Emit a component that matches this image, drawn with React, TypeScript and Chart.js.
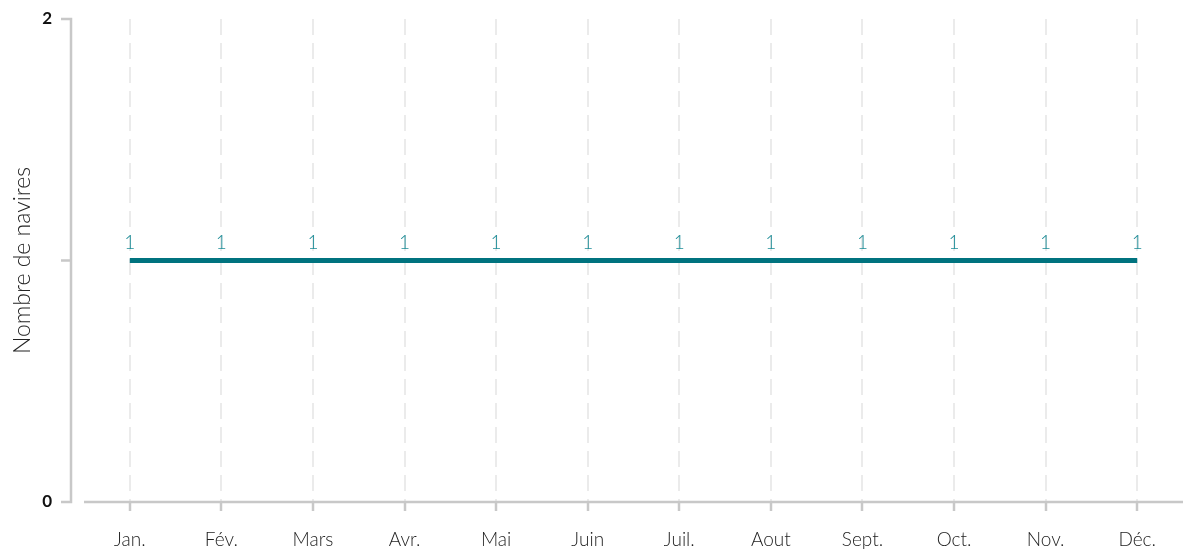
import React, { useEffect, useRef } from "react";
import { Chart, registerables } from "chart.js";

Chart.register(...registerables);

const months = ["Jan.", "Fév.", "Mars", "Avr.", "Mai", "Juin", "Juil.", "Aout", "Sept.", "Oct.", "Nov.", "Déc."];
const navires = [1, 1, 1, 1, 1, 1, 1, 1, 1, 1, 1, 1];
const yTicks = [0, 1, 2];
const yTitle = "Nombre de navires";

const FONT = "'Source Sans Pro', Lato, 'Open Sans', sans-serif";
const AXIS = "#c8c8c8";
const TEAL = "#00737f";

const axesPlugin = {
  id: "axesLines",
  afterDraw(chart: any) {
    const { ctx, chartArea } = chart;
    const y = chart.scales.y;
    const x0 = chartArea.left - 13;
    ctx.save();
    ctx.setLineDash([]);
    ctx.strokeStyle = AXIS;
    ctx.lineWidth = 2.5;
    ctx.beginPath();
    ctx.moveTo(x0, y.getPixelForValue(2));
    ctx.lineTo(x0, y.getPixelForValue(0));
    for (const v of yTicks) {
      const py = y.getPixelForValue(v);
      ctx.moveTo(x0 - 10, py);
      ctx.lineTo(x0 + 1.25, py);
    }
    ctx.moveTo(chartArea.left, chartArea.bottom);
    ctx.lineTo(ctx.canvas.width + 10, chartArea.bottom);
    ctx.stroke();
    ctx.restore();
  },
};

const labelPlugin = {
  id: "pointLabels",
  afterDatasetsDraw(chart: any) {
    const { ctx } = chart;
    const meta = chart.getDatasetMeta(0);
    ctx.save();
    ctx.fillStyle = "#1f8e99";
    ctx.font = `300 19px ${FONT}`;
    ctx.textAlign = "center";
    ctx.textBaseline = "bottom";
    meta.data.forEach((pt: any, i: number) => {
      ctx.fillText(String(navires[i]), pt.x, pt.y - 8);
    });
    ctx.restore();
  },
};

export default function App() {
  const ref = useRef<HTMLCanvasElement | null>(null);
  useEffect(() => {
    document.body.style.margin = "0";
    document.body.style.overflow = "hidden";
    document.documentElement.style.overflow = "hidden";
    (document.documentElement.style as any).scrollbarWidth = "none";
    const chart = new Chart(ref.current!, {
      type: "line",
      data: {
        labels: months,
        datasets: [
          {
            data: navires,
            borderColor: TEAL,
            backgroundColor: TEAL,
            borderWidth: 5,
            pointRadius: 0,
            tension: 0,
          },
        ],
      },
      options: {
        animation: false,
        responsive: false,
        layout: { padding: { top: 19, right: 0, left: 0, bottom: 0 } },
        plugins: { legend: { display: false }, tooltip: { enabled: false } },
        scales: {
          x: {
            type: "category",
            offset: true,
            afterFit(scale: any) {
              scale.height = 49;
              scale.paddingLeft = 0;
              scale.paddingRight = 0;
            },
            grid: {
              display: true,
              color: "#ebebeb",
              lineWidth: 2,
              drawTicks: true,
              tickLength: 9,
              tickColor: AXIS,
              tickWidth: 2.5,
              tickBorderDash: [],
              offset: false,
            },
            border: { display: false, dash: [16, 8] },
            ticks: {
              color: "#222",
              padding: 17,
              font: { family: FONT, size: 19, weight: "300" },
              maxRotation: 0,
              autoSkip: false,
            },
          },
          y: {
            min: 0,
            max: 2,
            afterFit(scale: any) {
              scale.width = 84;
              scale.paddingTop = 0;
              scale.paddingBottom = 0;
            },
            afterBuildTicks(scale: any) {
              scale.ticks = yTicks.map((v) => ({ value: v }));
            },
            grid: { display: false, drawTicks: false },
            border: { display: false },
            ticks: {
              color: "#111",
              padding: 32,
              font: { family: FONT, size: 17, weight: "bold" },
              callback: (v: any) => (v === 1 ? "" : String(v)),
            },
            title: {
              display: true,
              text: yTitle,
              color: "#222",
              font: { family: FONT, size: 23, weight: "300" },
              padding: { top: 9, bottom: 0 },
            },
          },
        },
      },
      plugins: [axesPlugin, labelPlugin],
    });
    return () => chart.destroy();
  }, []);
  return (
    <div style={{ width: 1183, height: 551, overflow: "hidden" }}>
      <canvas ref={ref} width={1183} height={551} style={{ display: "block" }} />
    </div>
  );
}
